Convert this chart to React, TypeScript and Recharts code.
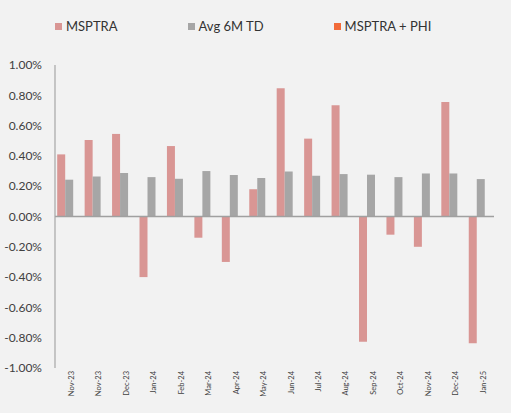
import { Bar, BarChart, XAxis, YAxis, Legend, ReferenceLine } from 'recharts';

const months = [
  'Nov-23', 'Nov-23', 'Dec-23', 'Jan-24', 'Feb-24', 'Mar-24', 'Apr-24', 'May-24',
  'Jun-24', 'Jul-24', 'Aug-24', 'Sep-24', 'Oct-24', 'Nov-24', 'Dec-24', 'Jan-25',
];
const msptra = [0.41, 0.505, 0.545, -0.4, 0.465, -0.14, -0.3, 0.18, 0.846, 0.514, 0.734, -0.826, -0.12, -0.2, 0.756, -0.837];
const avg6m = [0.243, 0.264, 0.287, 0.26, 0.249, 0.3, 0.274, 0.254, 0.297, 0.269, 0.28, 0.276, 0.26, 0.284, 0.284, 0.247];
const msptraPhi: (number | null)[] = months.map(() => null);
const yTicks = [-1, -0.8, -0.6, -0.4, -0.2, 0, 0.2, 0.4, 0.6, 0.8, 1];

const seriesLegend = [
  { name: 'MSPTRA', color: '#d99694' },
  { name: 'Avg 6M TD', color: '#a6a6a6' },
  { name: 'MSPTRA + PHI', color: '#f26b3a' },
];

const data = months.map((m, i) => ({
  month: m,
  msptra: msptra[i],
  avg: avg6m[i],
  phi: msptraPhi[i],
}));

const font = 'Lato, "Open Sans", sans-serif';

function TopLegend() {
  return (
    <div style={{ display: 'flex', alignItems: 'center', fontFamily: font, fontSize: 13, color: '#333' }}>
      {seriesLegend.map((s) => (
        <div key={s.name} style={{ display: 'flex', alignItems: 'center', marginRight: 70 }}>
          <span style={{ width: 7, height: 7, background: s.color, display: 'inline-block', marginRight: 4 }} />
          <span>{s.name}</span>
        </div>
      ))}
    </div>
  );
}

export default function App() {
  return (
    <div style={{ position: 'fixed', left: 0, top: 0, width: 511, height: 413, background: '#f2f2f2' }}>
      <BarChart
        width={511}
        height={413}
        data={data}
        margin={{ top: 65, right: 17, left: 0, bottom: 0 }}
        barCategoryGap="8%"
        barGap={0}
      >
        <YAxis
          width={55}
          domain={[-1, 1]}
          ticks={yTicks}
          interval={0}
          tickFormatter={(v: number) => `${v.toFixed(2)}%`}
          tick={{ fontSize: 12, fill: '#404040', fontFamily: font }}
          tickLine={false}
          tickMargin={7}
          axisLine={{ stroke: '#a6a6a6', strokeWidth: 1.2 }}
        />
        <XAxis
          dataKey="month"
          height={45}
          interval={0}
          axisLine={false}
          tickLine={false}
          tickMargin={0}
          angle={-90}
          textAnchor="end"
          tick={{ fontSize: 7.5, fill: '#404040', fontFamily: font, dy: -3 }}
        />
        <Legend
          layout="horizontal"
          verticalAlign="middle"
          align="center"
          wrapperStyle={{ top: 18, left: 55, width: 450 }}
          content={() => <TopLegend />}
        />
        <Bar dataKey="msptra" name="MSPTRA" fill="#d99694" isAnimationActive={false} />
        <Bar dataKey="avg" name="Avg 6M TD" fill="#a6a6a6" isAnimationActive={false} />
        <Bar dataKey="phi" name="MSPTRA + PHI" fill="#f26b3a" isAnimationActive={false} />
        <ReferenceLine y={0} stroke="#a0a0a0" strokeWidth={1.5} />
      </BarChart>
    </div>
  );
}
